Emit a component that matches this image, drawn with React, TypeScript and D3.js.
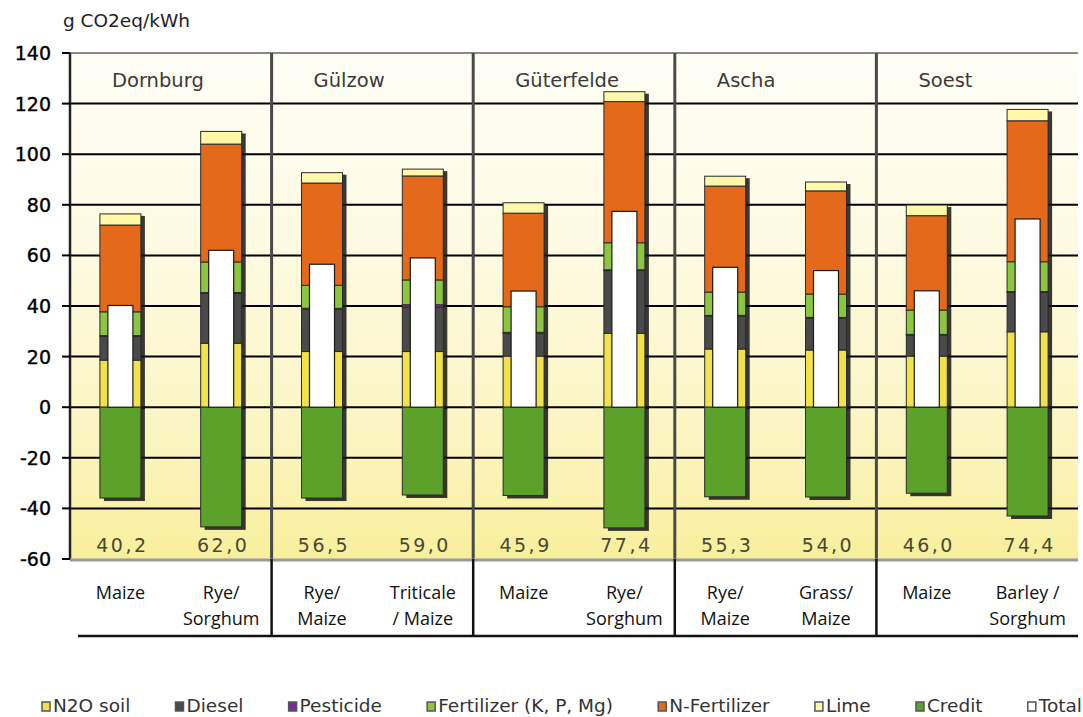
import * as d3 from 'd3';

const W = 1083;
const H = 717;
const PLOT_L = 70;
const PLOT_R = 1078;
const PLOT_T = 53;
const PLOT_B = 559;
const LABEL_B = 636;
const BAR_W = 41;
const TOTAL_W = 25;

const sites = ['Dornburg', 'Gülzow', 'Güterfelde', 'Ascha', 'Soest'];
const crops = [
  ['Maize'], ['Rye/', 'Sorghum'],
  ['Rye/', 'Maize'], ['Triticale', '/ Maize'],
  ['Maize'], ['Rye/', 'Sorghum'],
  ['Rye/', 'Maize'], ['Grass/', 'Maize'],
  ['Maize'], ['Barley /', 'Sorghum'],
];

// g CO2eq/kWh, per crop (same order as crops)
const n2oSoil = [18.6, 25.3, 22.0, 22.0, 20.2, 29.2, 23.0, 22.6, 20.2, 29.8];
const diesel = [9.4, 19.7, 16.7, 17.5, 9.1, 24.8, 13.0, 12.6, 8.3, 15.6];
const pesticide = [0.3, 0.3, 0.4, 1.0, 0.3, 0.3, 0.3, 0.3, 0.3, 0.3];
const fertKPMg = [9.4, 12.1, 9.1, 9.8, 10.1, 10.7, 9.2, 9.2, 9.6, 11.8];
const nFert = [34.3, 46.6, 40.4, 41.1, 37.0, 55.8, 41.9, 40.8, 37.3, 55.7];
const lime = [4.4, 5.0, 4.1, 2.7, 4.1, 3.9, 3.9, 3.5, 4.2, 4.5];
const credit = [-35.9, -47.3, -35.9, -34.7, -34.9, -47.7, -35.4, -35.5, -34.0, -43.0];
const totals = [40.2, 62.0, 56.5, 59.0, 45.9, 77.4, 55.3, 54.0, 46.0, 74.4];

const yTicks = [140, 120, 100, 80, 60, 40, 20, 0, -20, -40, -60];

const series = [
  { key: 'n2o', name: 'N2O soil', color: '#f2e24a', values: n2oSoil },
  { key: 'diesel', name: 'Diesel', color: '#4a4a4a', values: diesel },
  { key: 'pesticide', name: 'Pesticide', color: '#7a2a9a', values: pesticide },
  { key: 'fert', name: 'Fertilizer (K, P, Mg)', color: '#8cc540', values: fertKPMg },
  { key: 'nfert', name: 'N-Fertilizer', color: '#e4691a', values: nFert },
  { key: 'lime', name: 'Lime', color: '#fff8a8', values: lime },
];
const CREDIT_COLOR = '#5ba12a';

const legendItems = [
  ...series.map(s => ({ name: s.name, color: s.color })),
  { name: 'Credit', color: CREDIT_COLOR },
  { name: 'Total', color: '#ffffff' },
];

const FONT = '"DejaVu Sans", Verdana, sans-serif';

function textWidth(text: string, font: string) {
  const c = document.createElement('canvas').getContext('2d');
  if (!c) return text.length * 10;
  c.font = font;
  return c.measureText(text).width;
}

export default function App() {
  const y = d3.scaleLinear().domain([-60, 140]).range([PLOT_B, PLOT_T]);
  const x = d3.scaleBand<number>().domain(d3.range(crops.length)).range([PLOT_L, PLOT_R]);
  const xs = d3.scaleBand<string>().domain(sites).range([PLOT_L, PLOT_R]);

  const rows = crops.map((_, i) => {
    const r: Record<string, number> = {};
    series.forEach(s => { r[s.key] = s.values[i]; });
    return r;
  });
  const stacked = d3.stack<Record<string, number>>().keys(series.map(s => s.key))(rows);

  const fmt = (v: number) => d3.format('.1f')(v).replace('.', ',');

  // legend layout from text widths, spread across the row
  const legendFont = `18.5px ${FONT}`;
  const widths = legendItems.map(it => 11 + textWidth(it.name, legendFont));
  const startX = 42;
  const gap = (1082 - startX - d3.sum(widths)) / (legendItems.length - 1);
  let lx = startX;
  const legend = legendItems.map((it, k) => {
    const pos = lx;
    lx += widths[k] + gap;
    return { ...it, x: pos };
  });

  const barX = (i: number) => (x(i) as number) + x.bandwidth() / 2;

  return (
    <svg width={W} height={H} style={{ position: 'absolute', left: 0, top: 0, background: '#fff' }}>
      <defs>
        <linearGradient id="bg" x1="0" x2="0" y1="0" y2="1">
          <stop offset="0%" stopColor="#fffef6" />
          <stop offset="40%" stopColor="#fdfae0" />
          <stop offset="75%" stopColor="#fbf5c2" />
          <stop offset="100%" stopColor="#f8ef9c" />
        </linearGradient>
      </defs>

      <text x={63} y={27} fontFamily={FONT} fontSize={18.5} fill="#222">g CO2eq/kWh</text>

      <rect x={PLOT_L} y={PLOT_T} width={PLOT_R - PLOT_L} height={PLOT_B - PLOT_T} fill="url(#bg)" />

      {/* grid */}
      {yTicks.filter(t => t !== 140 && t !== -60).map(t => (
        <line key={t} x1={PLOT_L} x2={PLOT_R} y1={y(t)} y2={y(t)} stroke="#000" strokeWidth={2} />
      ))}
      <line x1={PLOT_L} x2={PLOT_R} y1={y(140)} y2={y(140)} stroke="#8a8a8a" strokeWidth={2} />

      {/* y axis */}
      <line x1={PLOT_L} x2={PLOT_L} y1={PLOT_T} y2={PLOT_B} stroke="#222" strokeWidth={2.5} />
      {yTicks.map(t => (
        <g key={t}>
          <line x1={62} x2={PLOT_L} y1={y(t)} y2={y(t)} stroke="#000" strokeWidth={2} />
          <text x={51} y={y(t) + 7} textAnchor="end" fontFamily={FONT} fontSize={19} fill="#000"
            stroke="#000" strokeWidth={0.4}>{t}</text>
        </g>
      ))}

      {/* site names */}
      {sites.map(s => (
        <text key={s} x={(xs(s) as number) + 42} y={87} fontFamily={FONT} fontSize={19.5} fill="#3a3a3a">{s}</text>
      ))}

      {/* bars */}
      {crops.map((_, i) => {
        const cx = barX(i);
        const x0 = cx - BAR_W / 2;
        const top = stacked[stacked.length - 1][i][1];
        return (
          <g key={i}>
            <rect x={x0 + 4} y={y(top) + 2} width={BAR_W} height={y(0) - y(top)} fill="#151515" opacity={0.85} />
            <rect x={x0 + 4} y={y(0)} width={BAR_W} height={y(credit[i]) - y(0) + 3} fill="#151515" opacity={0.85} />
            {stacked.map((layer, k) => (
              <rect key={k} x={x0} y={y(layer[i][1])} width={BAR_W}
                height={Math.max(0, y(layer[i][0]) - y(layer[i][1]))}
                fill={series[k].color} stroke="#2a2a2a" strokeWidth={1} />
            ))}
            <rect x={x0} y={y(0)} width={BAR_W} height={y(credit[i]) - y(0)} fill={CREDIT_COLOR} stroke="#2a2a2a" strokeWidth={1} />
            <rect x={cx - TOTAL_W / 2} y={y(totals[i])} width={TOTAL_W} height={y(0) - y(totals[i])}
              fill="#fff" stroke="#1a1a1a" strokeWidth={1.2} />
            <text x={cx + 2} y={552} textAnchor="middle" fontFamily={FONT} fontSize={19}
              letterSpacing={2.5} fill="#4a4735">{fmt(totals[i])}</text>
          </g>
        );
      })}

      {/* site separators */}
      {sites.slice(1).map(s => (
        <line key={s} x1={xs(s)} x2={xs(s)} y1={PLOT_T} y2={PLOT_B} stroke="#4a4a4a" strokeWidth={3} />
      ))}

      {/* category label area */}
      <line x1={PLOT_L} x2={PLOT_R} y1={PLOT_B + 1} y2={PLOT_B + 1} stroke="#9a9a9a" strokeWidth={3} />
      {sites.slice(1).map(s => (
        <line key={s} x1={xs(s)} x2={xs(s)} y1={PLOT_B} y2={LABEL_B} stroke="#111" strokeWidth={2.5} />
      ))}
      <line x1={78} x2={PLOT_R} y1={LABEL_B} y2={LABEL_B} stroke="#111" strokeWidth={2.5} />
      {crops.map((lines, i) => (
        <text key={i} x={barX(i)} y={599} textAnchor="middle" fontFamily='"Open Sans", sans-serif' fontSize={18} fill="#111">
          {lines.map((l, j) => (
            <tspan key={j} x={barX(i)} dy={j === 0 ? 0 : 26}>{l}</tspan>
          ))}
        </text>
      ))}

      {/* legend */}
      {legend.map(it => (
        <g key={it.name}>
          <rect x={it.x} y={702} width={8} height={9} fill={it.color} stroke="#555" strokeWidth={1.5} />
          <text x={it.x + 11} y={712} fontFamily={FONT} fontSize={18.5} fill="#333">{it.name}</text>
        </g>
      ))}
    </svg>
  );
}
